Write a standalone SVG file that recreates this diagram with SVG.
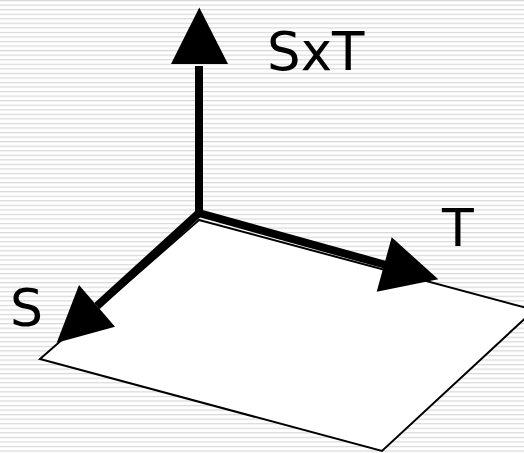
<svg xmlns="http://www.w3.org/2000/svg" width="524" height="453" viewBox="0 0 524 453">
<defs>
<pattern id="stripes" x="0" y="0" width="524" height="4.55" patternUnits="userSpaceOnUse">
<rect x="0" y="0" width="524" height="1.2" fill="#d8d8d8"/>
</pattern>
<style>
.lbl{font-family:"DejaVu Sans",Verdana,sans-serif;font-size:52px;fill:#000}
.shaft{stroke:#000;stroke-width:8;fill:none}
.head{fill:#000}
</style>
</defs>
<rect x="0" y="0" width="524" height="453" fill="#fff"/>
<rect x="0" y="0" width="524" height="453" fill="url(#stripes)"/>
<g id="plane">
<polygon points="199,220 534,310 382,451 40,359" fill="#fff" stroke="#000" stroke-width="2"/>
</g>
<g id="connectors">
<path class="shaft" d="M199,66 L199,213 L386,265" stroke-linejoin="miter"/>
<path class="shaft" d="M199,213 L97,306"/>
<polygon class="head" points="199.3,7.5 171,64 228,64"/>
<polygon class="head" points="438.3,279.3 391.7,237.3 376.7,291.7"/>
<polygon class="head" points="56.7,342.7 79,285 115,326.7"/>
</g>
<g id="label-sxt"><text class="lbl" x="267" y="70" style="font-size:53px">SxT</text></g>
<g id="label-t"><text class="lbl" x="442" y="246">T</text></g>
<g id="label-s"><text class="lbl" x="10" y="326">S</text></g>
</svg>
